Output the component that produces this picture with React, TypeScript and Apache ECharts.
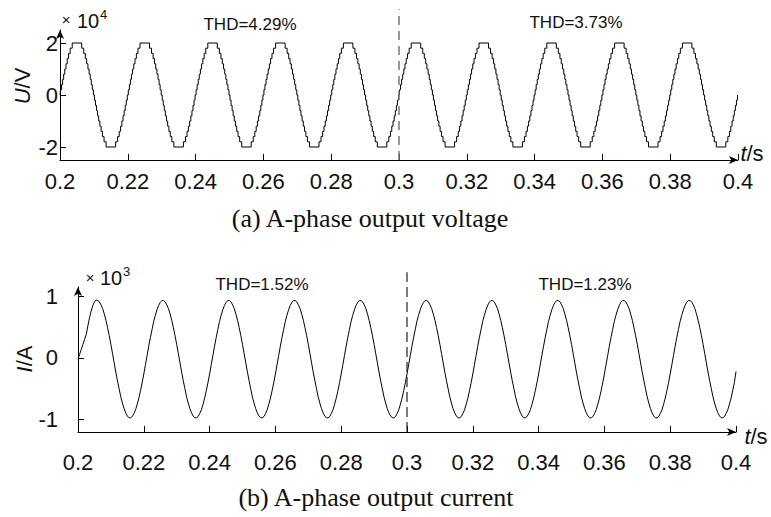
import React, { useEffect, useRef } from 'react';
import * as echarts from 'echarts';

// ---- data ----
// cycle start times (s) of the 50 Hz waveforms shown between 0.2 s and 0.4 s
const cycleStartTimes = [0.2, 0.22, 0.24, 0.26, 0.28, 0.3, 0.32, 0.34, 0.36, 0.38];
const halfPeriod = 0.01;
// staircase voltage: switching instants (ms after a zero crossing) in a quarter cycle, and the levels (x10^4 V)
const voltageStepTimesMs = [0.15, 0.46, 0.77, 1.08, 1.41, 1.76, 2.13, 2.53, 3.0, 3.6];
const voltageStepLevels = [0.2, 0.4, 0.6, 0.8, 1.0, 1.2, 1.4, 1.6, 1.8, 2.0];
// current (x10^3 A), one steady-state cycle sampled every 0.5 ms
const currentSampleMs = 0.5;
const currentCycle = [
  -0.26, -0.11, 0.04, 0.19, 0.33, 0.46, 0.59, 0.69, 0.78, 0.85,
  0.9, 0.93, 0.93, 0.91, 0.86, 0.8, 0.71, 0.61, 0.49, 0.36,
  0.22, 0.07, -0.08, -0.23, -0.37, -0.5, -0.63, -0.73, -0.82, -0.89,
  -0.94, -0.97, -0.97, -0.95, -0.9, -0.84, -0.75, -0.65, -0.53, -0.4,
];
// start-up transient of the first current cycle
const currentFirstCycle = [-0.02, 0.06, 0.14, 0.22, 0.3, 0.38, 0.52, 0.65, 0.76, 0.85, 0.91, 0.94, 0.93];
const currentEnd = -0.22;
const switchTime = 0.3;
const voltageYTicks = [-2, 0, 2];
const currentYTicks = [-1, 0, 1];
const thdVoltage = ['THD=4.29%', 'THD=3.73%'];
const thdCurrent = ['THD=1.52%', 'THD=1.23%'];
const captions = ['(a) A-phase output voltage', '(b) A-phase output current'];

function buildVoltage() {
  const d: number[][] = [[0.2, 0]];
  for (const c of cycleStartTimes) {
    for (const h of [0, 1]) {
      const sign = h === 0 ? 1 : -1;
      const base = c + h * halfPeriod;
      voltageStepTimesMs.forEach((tm, k) => d.push([base + tm / 1000, sign * voltageStepLevels[k]]));
      for (let k = voltageStepTimesMs.length - 1; k >= 0; k--) {
        d.push([base + halfPeriod - voltageStepTimesMs[k] / 1000, k > 0 ? sign * voltageStepLevels[k - 1] : 0]);
      }
    }
  }
  d.push([0.4, 0]);
  return d;
}

function buildCurrent() {
  const d: number[][] = [];
  cycleStartTimes.forEach((c, ci) => {
    currentCycle.forEach((v, i) => {
      const val = ci === 0 && i < currentFirstCycle.length ? currentFirstCycle[i] : v;
      d.push([c + (i * currentSampleMs) / 1000, val]);
    });
  });
  d.push([0.4, currentEnd]);
  return d;
}

const SANS = 'Liberation Sans';
const SERIF = 'Liberation Serif';

export default function App() {
  const ref = useRef<HTMLDivElement>(null);
  useEffect(() => {
    if (!ref.current) return;
    const chart = echarts.init(ref.current, undefined, { renderer: 'svg' });
    const axisLine = {
      show: true,
      onZero: false,
      lineStyle: { color: '#000', width: 1 },
      symbol: ['none', 'arrow'],
      symbolSize: [6, 9],
    };
    const xAxis = (gridIndex: number, margin: number) => ({
      type: 'value',
      gridIndex,
      min: 0.2,
      max: 0.4,
      interval: 0.02,
      axisLine,
      axisTick: { show: true, inside: true, length: 6, lineStyle: { color: '#000' } },
      axisLabel: {
        margin,
        fontSize: 22,
        fontFamily: SANS,
        color: '#111',
        showMinLabel: true,
        showMaxLabel: true,
        formatter: (v: number) => String(+v.toFixed(2)),
      },
      splitLine: { show: false },
    });
    const yAxis = (gridIndex: number, min: number, max: number, ticks: number[], margin: number) => ({
      type: 'value',
      gridIndex,
      min,
      max,
      axisLine,
      axisTick: { show: true, inside: true, length: 6, customValues: ticks, lineStyle: { color: '#000' } },
      axisLabel: {
        margin,
        fontSize: 22,
        fontFamily: SANS,
        color: '#111',
        customValues: ticks,
        formatter: (v: number) => String(Math.round(v)),
      },
      splitLine: { show: false },
    });
    const txt = (x: number, y: number, text: string, fontSize: number, extra: any = {}) => ({
      type: 'text',
      x,
      y,
      silent: true,
      style: {
        text,
        fontSize,
        fontFamily: SANS,
        fill: '#111',
        textAlign: 'center',
        textVerticalAlign: 'middle',
        ...extra,
      },
    });
    const italicRich = { i: { fontStyle: 'italic', fontSize: 22, fontFamily: SANS, fill: '#111' } };
    chart.setOption({
      animation: false,
      backgroundColor: '#fff',
      grid: [
        { left: 60, right: 33, top: 30, height: 130 },
        { left: 78, right: 35, top: 287, height: 145 },
      ],
      xAxis: [xAxis(0, 10), xAxis(1, 19)],
      yAxis: [yAxis(0, -2.5, 2.5, voltageYTicks, 2), yAxis(1, -1.2, 1.15, currentYTicks, 20)],
      series: [
        {
          type: 'line',
          xAxisIndex: 0,
          yAxisIndex: 0,
          data: buildVoltage(),
          step: 'end',
          showSymbol: false,
          symbol: 'none',
          lineStyle: { color: '#000', width: 1 },
        },
        {
          type: 'line',
          xAxisIndex: 1,
          yAxisIndex: 1,
          data: buildCurrent(),
          showSymbol: false,
          symbol: 'none',
          lineStyle: { color: '#000', width: 1 },
        },
        {
          type: 'line',
          xAxisIndex: 0,
          yAxisIndex: 0,
          data: [[switchTime, -2.5], [switchTime, 3.3]],
          clip: false,
          silent: true,
          symbol: 'none',
          lineStyle: { color: '#777', width: 1.5, type: [9, 6] },
        },
        {
          type: 'line',
          xAxisIndex: 1,
          yAxisIndex: 1,
          data: [[switchTime, -1.2], [switchTime, 1.39]],
          clip: false,
          silent: true,
          symbol: 'none',
          lineStyle: { color: '#222', width: 1.2, type: [10, 5] },
        },
      ],
      graphic: [
        // top panel annotations
        txt(66, 19, '×', 15),
        txt(77, 21, '10', 20, { textAlign: 'left' }),
        txt(100, 14, '4', 13, { textAlign: 'left' }),
        { ...txt(22, 86, '{i|U}/V', 22, { rich: italicRich }), rotation: Math.PI / 2 },
        txt(752, 153, '{i|t}/s', 22, { rich: italicRich }),
        txt(250, 24, thdVoltage[0], 17),
        txt(576, 22, thdVoltage[1], 17),
        txt(370, 218, captions[0], 26, { fontFamily: SERIF }),
        // bottom panel annotations
        txt(90, 277, '×', 15),
        txt(100, 278, '10', 20, { textAlign: 'left' }),
        txt(123, 271, '3', 13, { textAlign: 'left' }),
        { ...txt(24, 359, '{i|I}/A', 22, { rich: italicRich }), rotation: Math.PI / 2 },
        txt(756, 436, '{i|t}/s', 22, { rich: italicRich }),
        txt(262, 284, thdCurrent[0], 17),
        txt(585, 284, thdCurrent[1], 17),
        txt(376, 497, captions[1], 26, { fontFamily: SERIF }),
      ],
    });
    return () => chart.dispose();
  }, []);
  return (
    <div
      ref={ref}
      style={{ position: 'absolute', left: 0, top: 0, width: 771, height: 517, background: '#fff' }}
    />
  );
}
